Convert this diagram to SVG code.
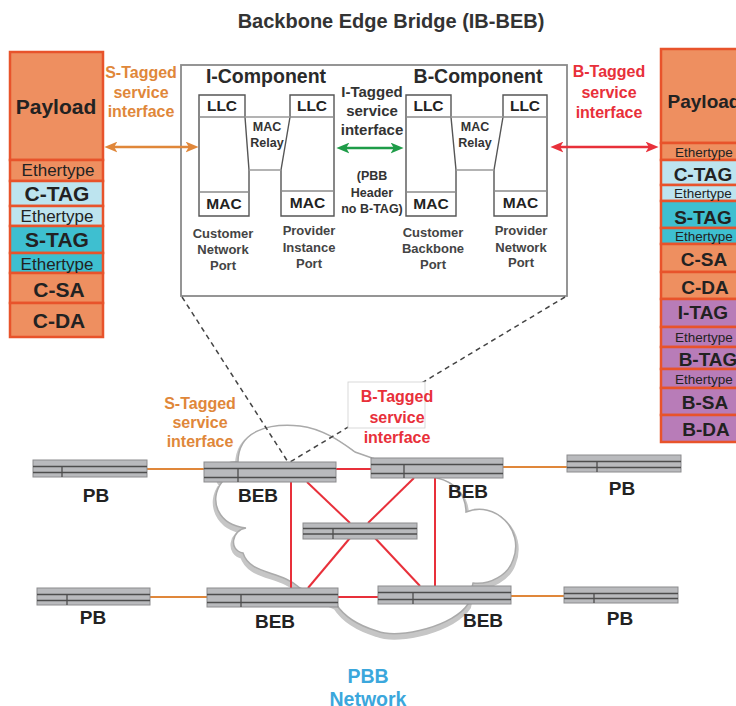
<svg xmlns="http://www.w3.org/2000/svg" width="736" height="706" viewBox="0 0 736 706">
<defs>
<style>
text{font-family:'Liberation Sans',Arial,Helvetica,sans-serif;font-weight:bold;text-anchor:middle}
.cell{stroke:#E8532B;stroke-width:2.5}
.or{fill:#EE8F60}.lb{fill:#BDE4EF}.tl{fill:#3EBFD0}.pu{fill:#B87CB8}
.L{font-size:21px;fill:#222}.Le{font-size:17px;font-weight:normal;fill:#222}
.R{font-size:19px;fill:#222}.Re{font-size:13.5px;font-weight:normal;fill:#222}
.port{fill:#fff;stroke:#555;stroke-width:1.4}
.div{stroke:#8a8a8a;stroke-width:1.3}
.relay{stroke:#9a9a9a;stroke-width:1.5;fill:none}
.pt{font-size:15.5px;fill:#222}
.mr{font-size:12.5px;fill:#333}
.plab{font-size:13px;fill:#444}
.comp{font-size:19.5px;fill:#2a2a2a}
.ifl{font-size:16px}
.otx{fill:#E0873A}.rtx{fill:#E8303A}
.itx{font-size:15px;fill:#333}.htx{font-size:12.5px;fill:#333}
.bar{fill:#B9BABD;stroke:#8C8C8E;stroke-width:1}
.barl{stroke:#4d4d4d;stroke-width:1.3}
.nl{font-size:19px;fill:#222}
.lnk-o{stroke:#E0873A;stroke-width:2}
.lnk-r{stroke:#E8303A;stroke-width:2}
.dash{stroke:#444;stroke-width:1.5;stroke-dasharray:5 4;fill:none}
.pbb{font-size:19.5px;fill:#3BA7DC}
</style>
<marker id="ah-o" viewBox="0 0 12 10" refX="5" refY="5" markerWidth="13" markerHeight="11" markerUnits="userSpaceOnUse" orient="auto-start-reverse"><path d="M0,0 L12,5 L0,10 L3,5 Z" fill="#E0873A"/></marker>
<marker id="ah-r" viewBox="0 0 12 10" refX="5" refY="5" markerWidth="13" markerHeight="11" markerUnits="userSpaceOnUse" orient="auto-start-reverse"><path d="M0,0 L12,5 L0,10 L3,5 Z" fill="#E8303A"/></marker>
<marker id="ah-g" viewBox="0 0 12 10" refX="5" refY="5" markerWidth="13" markerHeight="11" markerUnits="userSpaceOnUse" orient="auto-start-reverse"><path d="M0,0 L12,5 L0,10 L3,5 Z" fill="#1E9C48"/></marker>
</defs>
<rect width="736" height="706" fill="#fff"/>

<text id="title" x="391" y="28" style="font-size:20px;fill:#333">Backbone Edge Bridge (IB-BEB)</text>

<!-- cloud -->
<g id="cloud">
<path transform="translate(0,3)" fill="none" stroke="#c6c6c6" stroke-width="6" d="M222,482 C212,470 225,461 238,462 C238,430 270,423 300,426 C325,429 345,445 355,452 L372,458 L437,478 C455,482 466,495 466,512 C495,500 525,530 513,560 C508,575 490,585 473,583 L468,604 C455,625 400,640 377,631 C360,626 345,618 336,604 L300,588 C280,570 250,575 243,553 C228,550 232,530 246,528 C218,525 208,500 222,482 Z"/>
<path fill="#fff" stroke="#aaa" stroke-width="1.5" d="M222,482 C212,470 225,461 238,462 C238,430 270,423 300,426 C325,429 345,445 355,452 L372,458 L437,478 C455,482 466,495 466,512 C495,500 525,530 513,560 C508,575 490,585 473,583 L468,604 C455,625 400,640 377,631 C360,626 345,618 336,604 L300,588 C280,570 250,575 243,553 C228,550 232,530 246,528 C218,525 208,500 222,482 Z"/>
</g>

<!-- left frame stack -->
<g id="stack-left">
<rect class="cell or" x="10" y="52" width="93" height="108"/>
<rect class="cell or" x="10" y="160" width="93" height="21"/>
<rect class="cell lb" x="10" y="181" width="93" height="25"/>
<rect class="cell lb" x="10" y="206" width="93" height="20"/>
<rect class="cell tl" x="10" y="226" width="93" height="27"/>
<rect class="cell tl" x="10" y="253" width="93" height="20"/>
<rect class="cell or" x="10" y="273" width="93" height="30"/>
<rect class="cell or" x="10" y="303" width="93" height="34"/>
<text class="L" x="56" y="114">Payload</text>
<text class="Le" x="58" y="176">Ethertype</text>
<text class="L" x="57" y="201">C-TAG</text>
<text class="Le" x="57" y="222">Ethertype</text>
<text class="L" x="57" y="247">S-TAG</text>
<text class="Le" x="57" y="270">Ethertype</text>
<text class="L" x="59" y="297">C-SA</text>
<text class="L" x="59" y="328">C-DA</text>
</g>

<!-- right frame stack -->
<g id="stack-right">
<rect class="cell or" x="661" y="49" width="100" height="94"/>
<rect class="cell or" x="661" y="143" width="100" height="17"/>
<rect class="cell lb" x="661" y="160" width="100" height="25"/>
<rect class="cell lb" x="661" y="185" width="100" height="16"/>
<rect class="cell tl" x="661" y="201" width="100" height="27"/>
<rect class="cell tl" x="661" y="228" width="100" height="16"/>
<rect class="cell or" x="661" y="244" width="100" height="28"/>
<rect class="cell or" x="661" y="272" width="100" height="27"/>
<rect class="cell pu" x="661" y="299" width="100" height="28"/>
<rect class="cell pu" x="661" y="327" width="100" height="20"/>
<rect class="cell pu" x="661" y="347" width="100" height="22"/>
<rect class="cell pu" x="661" y="369" width="100" height="19"/>
<rect class="cell pu" x="661" y="388" width="100" height="27"/>
<rect class="cell pu" x="661" y="415" width="100" height="27"/>
<text class="R" x="704" y="108">Payload</text>
<text class="Re" x="704" y="156.5">Ethertype</text>
<text class="R" x="703" y="181">C-TAG</text>
<text class="Re" x="703" y="198">Ethertype</text>
<text class="R" x="703" y="224">S-TAG</text>
<text class="Re" x="704" y="241">Ethertype</text>
<text class="R" x="704" y="266">C-SA</text>
<text class="R" x="705" y="294">C-DA</text>
<text class="R" x="703" y="319">I-TAG</text>
<text class="Re" x="704" y="341.5">Ethertype</text>
<text class="R" x="708" y="366">B-TAG</text>
<text class="Re" x="704" y="384">Ethertype</text>
<text class="R" x="705" y="409">B-SA</text>
<text class="R" x="706" y="436">B-DA</text>
</g>

<!-- bridge box -->
<g id="ib-beb">
<rect x="181" y="65" width="386" height="231" fill="#fff" stroke="#8a8a8a" stroke-width="1.8"/>
<text class="comp" x="266" y="83">I-Component</text>
<text class="comp" x="478" y="83">B-Component</text>
</g>

<g id="cnp">
<path class="port" d="M199,95 H245 V117 L249,170 V216 H199 Z"/>
<line class="div" x1="199" y1="117" x2="245" y2="117"/>
<line class="div" x1="199" y1="192" x2="249" y2="192"/>
<text class="pt" x="222" y="111">LLC</text>
<text class="pt" x="224" y="209">MAC</text>
<text class="plab" x="223" y="238">Customer</text>
<text class="plab" x="223" y="254">Network</text>
<text class="plab" x="223" y="270">Port</text>
</g>
<g id="pip">
<path class="port" d="M290,95 H334 V216 H281 V170 L290,117 Z"/>
<line class="div" x1="290" y1="117" x2="334" y2="117"/>
<line class="div" x1="281" y1="191" x2="334" y2="191"/>
<text class="pt" x="312" y="111">LLC</text>
<text class="pt" x="307.5" y="208">MAC</text>
<text class="plab" x="309" y="235">Provider</text>
<text class="plab" x="309" y="251.5">Instance</text>
<text class="plab" x="309" y="267.5">Port</text>
</g>
<g id="relay-i">
<path class="relay" d="M245,117 H290 M249,170 H281"/>
<text class="mr" x="267" y="130.5">MAC</text>
<text class="mr" x="267" y="146.5">Relay</text>
</g>
<g id="cbp">
<path class="port" d="M406,95 H451 V117 L456,170 V216 H406 Z"/>
<line class="div" x1="406" y1="117" x2="451" y2="117"/>
<line class="div" x1="406" y1="192" x2="456" y2="192"/>
<text class="pt" x="428.5" y="111">LLC</text>
<text class="pt" x="431" y="209">MAC</text>
<text class="plab" x="433" y="237">Customer</text>
<text class="plab" x="433" y="253">Backbone</text>
<text class="plab" x="433" y="269">Port</text>
</g>
<g id="pnp">
<path class="port" d="M503,95 H547 V216 H494 V170 L503,117 Z"/>
<line class="div" x1="503" y1="117" x2="547" y2="117"/>
<line class="div" x1="494" y1="191" x2="547" y2="191"/>
<text class="pt" x="525" y="111">LLC</text>
<text class="pt" x="520.5" y="208">MAC</text>
<text class="plab" x="521" y="235">Provider</text>
<text class="plab" x="521" y="251.5">Network</text>
<text class="plab" x="521" y="267">Port</text>
</g>
<g id="relay-b">
<path class="relay" d="M451,117 H503 M456,170 H494"/>
<text class="mr" x="475" y="130.5">MAC</text>
<text class="mr" x="475" y="146.5">Relay</text>
</g>

<!-- interface labels -->
<g id="lbl-s-top" class="ifl otx">
<text x="141" y="78">S-Tagged</text>
<text x="141" y="98">service</text>
<text x="141" y="117">interface</text>
</g>
<g id="lbl-b-top" class="ifl rtx">
<text x="609" y="77">B-Tagged</text>
<text x="609" y="98">service</text>
<text x="609" y="118">interface</text>
</g>
<g id="lbl-i">
<text class="itx" x="372" y="97">I-Tagged</text>
<text class="itx" x="372" y="116">service</text>
<text class="itx" x="372" y="135">interface</text>
<text class="htx" x="372" y="180">(PBB</text>
<text class="htx" x="372" y="196.5">Header</text>
<text class="htx" x="372" y="213">no B-TAG)</text>
</g>

<!-- connectors -->
<g id="connectors">
<line x1="112" y1="147" x2="191" y2="147" stroke="#E0873A" stroke-width="2.5" marker-start="url(#ah-o)" marker-end="url(#ah-o)"/>
<line x1="344" y1="148" x2="396" y2="148" stroke="#1E9C48" stroke-width="2.5" marker-start="url(#ah-g)" marker-end="url(#ah-g)"/>
<line x1="558" y1="147" x2="651" y2="147" stroke="#E8303A" stroke-width="2.5" marker-start="url(#ah-r)" marker-end="url(#ah-r)"/>
<path class="dash" d="M182,297 L288,462 M565,297 L290,462"/>
<line class="lnk-o" x1="147" y1="469" x2="204" y2="469"/>
<line class="lnk-o" x1="150" y1="597" x2="207" y2="597"/>
<line class="lnk-o" x1="503" y1="467" x2="567" y2="467"/>
<line class="lnk-o" x1="511" y1="596" x2="564" y2="596"/>
<line class="lnk-r" x1="336" y1="469" x2="371" y2="469"/>
<line class="lnk-r" x1="338" y1="597" x2="378" y2="597"/>
<line class="lnk-r" x1="291" y1="482" x2="291" y2="588"/>
<line class="lnk-r" x1="435" y1="478" x2="435" y2="586"/>
<line class="lnk-r" x1="307" y1="482" x2="350" y2="523"/>
<line class="lnk-r" x1="414" y1="478" x2="368" y2="523"/>
<line class="lnk-r" x1="350" y1="538" x2="308" y2="588"/>
<line class="lnk-r" x1="375" y1="538" x2="420" y2="586"/>
</g>

<g id="lbl-b-net">
<rect x="348" y="382" width="77" height="46" fill="#fff" stroke="#cfcfcf" stroke-width="0.8"/>
<text class="ifl rtx" x="397" y="402">B-Tagged</text>
<text class="ifl rtx" x="397" y="423">service</text>
<text class="ifl rtx" x="397" y="443">interface</text>
</g>
<g id="lbl-s-net" class="ifl otx">
<text x="200" y="409">S-Tagged</text>
<text x="200" y="428">service</text>
<text x="200" y="447">interface</text>
</g>

<!-- network nodes -->
<g id="pb-tl"><rect class="bar" x="33" y="460" width="114" height="17"/><path class="barl" d="M33,466.5H147M33,472.5H147M62,466.5V477"/><text class="nl" x="96" y="501.5">PB</text></g>
<g id="beb-tl"><rect class="bar" x="204" y="462" width="132" height="20"/><path class="barl" d="M204,468.5H336M204,477.5H336M238,468.5V482"/><text class="nl" x="258" y="502">BEB</text></g>
<g id="beb-tr"><rect class="bar" x="371" y="458" width="132" height="20"/><path class="barl" d="M371,464.5H503M371,473.5H503M404,464.5V478"/><text class="nl" x="468" y="497.5">BEB</text></g>
<g id="pb-tr"><rect class="bar" x="567" y="455" width="114" height="17"/><path class="barl" d="M567,461.5H681M567,467.5H681M597,461.5V472"/><text class="nl" x="622" y="494.5">PB</text></g>
<g id="core"><rect class="bar" x="303" y="523" width="114" height="16"/><path class="barl" d="M303,528.5H417M303,534H417M333,528.5V539"/></g>
<g id="beb-bl"><rect class="bar" x="207" y="588" width="131" height="19"/><path class="barl" d="M207,594.5H338M207,602.5H338M241,594.5V607"/><text class="nl" x="275" y="627.5">BEB</text></g>
<g id="beb-br"><rect class="bar" x="378" y="586" width="133" height="18"/><path class="barl" d="M378,592.5H511M378,599.5H511M413,592.5V604"/><text class="nl" x="483" y="627">BEB</text></g>
<g id="pb-bl"><rect class="bar" x="37" y="588" width="113" height="17"/><path class="barl" d="M37,594.5H150M37,600.5H150M67,594.5V605"/><text class="nl" x="93" y="624">PB</text></g>
<g id="pb-br"><rect class="bar" x="564" y="587" width="114" height="16"/><path class="barl" d="M564,593.5H678M564,598.5H678M594,593.5V603"/><text class="nl" x="620" y="625">PB</text></g>

<g id="pbb-label">
<text class="pbb" x="368" y="683">PBB</text>
<text class="pbb" x="368" y="706">Network</text>
</g>
</svg>
